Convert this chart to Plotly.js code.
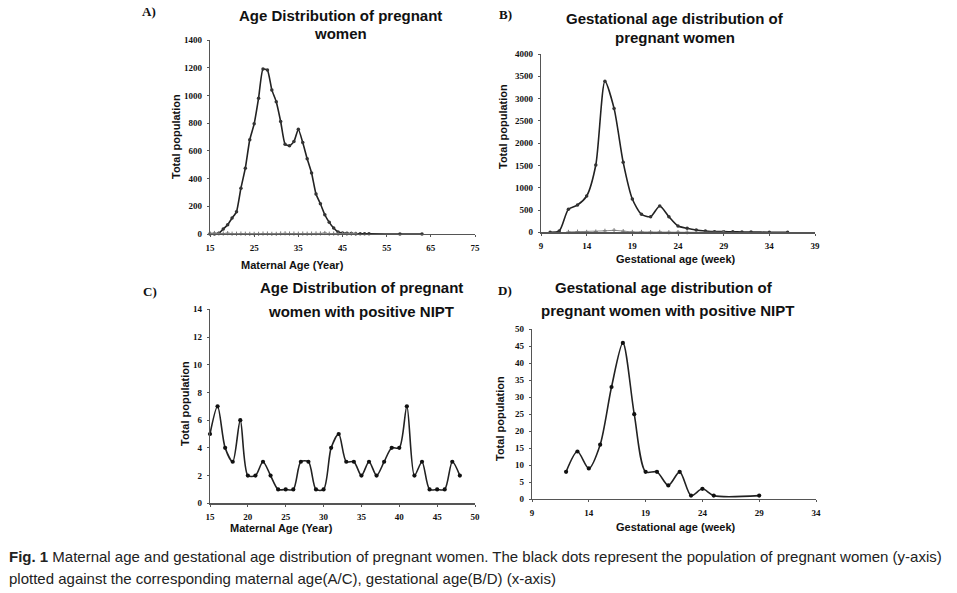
<!DOCTYPE html>
<html>
<head>
<meta charset="utf-8">
<script src="https://cdn.plot.ly/plotly-3.0.1.min.js"></script>
<style>
html,body{margin:0;padding:0;background:#fff;}
#chart{width:957px;height:593px;}
</style>
</head>
<body>
<div id="chart"></div>
<script>
// Panel A: maternal age, all pregnant women
const ageA = [15,16,17,18,19,20,21,22,23,24,25,26,27,28,29,30,31,32,33,34,35,36,37,38,39,40,41,42,43,44,45,46,47,48,49,50,51,58,63];
const popA = [0,0,5,36,67,115,160,331,475,680,795,980,1190,1183,1040,955,812,648,636,667,756,660,543,440,288,218,139,84,43,14,7,5,3,2,1,1,1,0,0];

// Panel C: maternal age, positive NIPT
const ageC = [15,16,17,18,19,20,21,22,23,24,25,26,27,28,29,30,31,32,33,34,35,36,37,38,39,40,41,42,43,44,45,46,47,48];
const popC = [5,7,4,3,6,2,2,3,2,1,1,1,3,3,1,1,4,5,3,3,2,3,2,3,4,4,7,2,3,1,1,1,3,2];

// Panel B: gestational age, all pregnant women
const gaB = [10,11,12,13,14,15,16,17,18,19,20,21,22,23,24,25,26,27,28,29,30,31,32,34,36];
const popB = [0,30,516,613,815,1510,3390,2780,1570,747,404,351,590,351,142,90,52,30,15,15,10,8,5,2,1];

// Panel D: gestational age, positive NIPT
const gaD = [12,13,14,15,16,17,18,19,20,21,22,23,24,25,29];
const popD = [8,14,9,16,33,46,25,8,8,4,8,1,3,1,1];

const titleA = ["Age Distribution of pregnant", "women"];
const titleB = ["Gestational age distribution of", "pregnant women"];
const titleC = ["Age Distribution of pregnant", "women with positive NIPT"];
const titleD = ["Gestational age distribution of", "pregnant women with positive NIPT"];
const yTitle = "Total population";
const xTitleAge = "Maternal Age (Year)";
const xTitleGA = "Gestational age (week)";
const caption1 = '<b>Fig. 1</b> Maternal age and gestational age distribution of pregnant women. The black dots represent the population of pregnant women (y-axis)';
const caption2 = 'plotted against the corresponding maternal age(A/C), gestational age(B/D) (x-axis)';

const W = 957, H = 593;
const fx = p => p / W;
const fy = p => 1 - p / H;

const lineMain = {color:'#222', width:1.6};
const mk = {size:3.5, color:'#333'};
const lineSec = {color:'#888', width:1};
const mkSec = {size:3, color:'#777', symbol:'cross-thin', line:{width:1,color:'#777'}};

const traces = [
  {x:ageA, y:popA, xaxis:'x', yaxis:'y', mode:'lines+markers', line:Object.assign({shape:'spline', smoothing:0.5}, lineMain), marker:mk, cliponaxis:false},
  {x:ageC, y:popC, xaxis:'x', yaxis:'y', mode:'lines+markers', line:lineSec, marker:mkSec, cliponaxis:false},
  {x:gaB, y:popB, xaxis:'x2', yaxis:'y2', mode:'lines+markers', line:Object.assign({shape:'spline', smoothing:0.7}, lineMain), marker:mk, cliponaxis:false},
  {x:gaD, y:popD, xaxis:'x2', yaxis:'y2', mode:'lines+markers', line:lineSec, marker:mkSec, cliponaxis:false},
  {x:ageC, y:popC, xaxis:'x3', yaxis:'y3', mode:'lines+markers', line:Object.assign({shape:'spline', smoothing:0.8}, lineMain), marker:{size:4.2,color:'#111'}, cliponaxis:false},
  {x:gaD, y:popD, xaxis:'x4', yaxis:'y4', mode:'lines+markers', line:Object.assign({shape:'spline', smoothing:0.8}, lineMain), marker:{size:4.2,color:'#111'}, cliponaxis:false}
];

const tickFont = {family:'Liberation Serif, DejaVu Serif, serif', size:9, color:'#111', weight:700};
function ax(domain, range, dtick, anchor, extra) {
  return Object.assign({
    domain: domain, range: range, dtick: dtick, tick0: range[0], anchor: anchor,
    showgrid:false, zeroline:false, showline:true, linecolor:'#555', linewidth:1.3,
    ticks:'outside', ticklen:2, tickcolor:'#555', tickwidth:1, ticklabelstandoff:3,
    tickfont: tickFont, fixedrange:true
  }, extra || {});
}

const titleFont = {family:'Liberation Sans, Arial, sans-serif', size:15, color:'#111', weight:700};
const axTitleFont = {family:'Liberation Sans, Arial, sans-serif', size:11, color:'#111', weight:700};
const labelFont = {family:'Liberation Serif, serif', size:13, color:'#111', weight:700};
const capFont = {family:'Liberation Sans, sans-serif', size:15, color:'#222'};

function ann(text, px, py, font, extra) {
  return Object.assign({text:text, x:fx(px), y:fy(py), xref:'paper', yref:'paper', showarrow:false,
    font:font, xanchor:'center', yanchor:'middle'}, extra || {});
}

const annotations = [
  ann(titleA[0], 340, 16, titleFont), ann(titleA[1], 340, 33, titleFont),
  ann(titleB[0], 675, 19, titleFont), ann(titleB[1], 675, 37, titleFont),
  ann(titleC[0], 361, 288, titleFont), ann(titleC[1], 361, 311, titleFont),
  ann(titleD[0], 664, 288, titleFont), ann(titleD[1], 667, 310, titleFont),
  ann('A)', 140, 12, labelFont, {xanchor:'left'}),
  ann('B)', 497, 14, labelFont, {xanchor:'left'}),
  ann('C)', 141, 291, labelFont, {xanchor:'left'}),
  ann('D)', 496, 290, labelFont, {xanchor:'left'}),
  ann(xTitleAge, 292, 265, axTitleFont),
  ann(xTitleGA, 676, 259, axTitleFont),
  ann(xTitleAge, 281, 528, axTitleFont),
  ann(xTitleGA, 676, 527, axTitleFont),
  ann(yTitle, 176, 137, axTitleFont, {textangle:-90}),
  ann(yTitle, 503, 127, axTitleFont, {textangle:-90}),
  ann(yTitle, 185, 404, axTitleFont, {textangle:-90}),
  ann(yTitle, 500, 419, axTitleFont, {textangle:-90}),
  ann(caption1, 7, 556, capFont, {xanchor:'left'}),
  ann(caption2, 7, 578, capFont, {xanchor:'left'})
];

const layout = {
  width:W, height:H, margin:{l:0,r:0,t:0,b:0}, paper_bgcolor:'#fff', plot_bgcolor:'#fff',
  showlegend:false,
  xaxis:  ax([fx(210), fx(475)], [15,75], 10, 'y'),
  yaxis:  ax([fy(234), fy(40)], [0,1400], 200, 'x'),
  xaxis2: ax([fx(541), fx(815)], [9,39], 5, 'y2'),
  yaxis2: ax([fy(232.3), fy(54)], [0,4000], 500, 'x2'),
  xaxis3: ax([fx(210), fx(475)], [15,50], 5, 'y3'),
  yaxis3: ax([fy(503.3), fy(309.3)], [0,14], 2, 'x3'),
  xaxis4: ax([fx(532), fx(816)], [9,34], 5, 'y4'),
  yaxis4: ax([fy(499), fy(329.3)], [0,50], 5, 'x4'),
  annotations: annotations
};

Plotly.newPlot('chart', traces, layout, {displayModeBar:false, staticPlot:true});
</script>
</body>
</html>
